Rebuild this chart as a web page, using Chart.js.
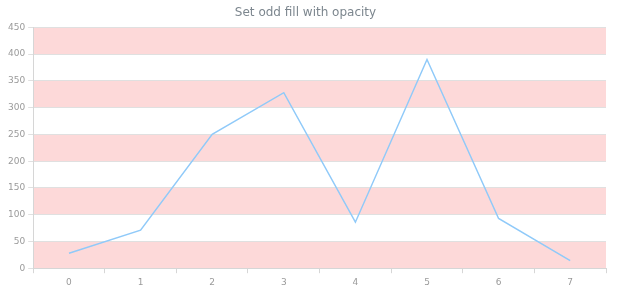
<!DOCTYPE html>
<html>
<head>
<meta charset="utf-8">
<script src="https://cdn.jsdelivr.net/npm/chart.js@4/dist/chart.umd.min.js"></script>
<style>
  html, body { margin: 0; padding: 0; background: #fff; }
  #wrap { width: 620px; height: 300px; }
</style>
</head>
<body>
<div id="wrap"><canvas id="chart"></canvas></div>
<script>
const categories = ['0', '1', '2', '3', '4', '5', '6', '7'];
const values = [28, 71, 250, 328, 86, 390, 93, 14];
const yTicks = [0, 50, 100, 150, 200, 250, 300, 350, 400, 450];

// fill every other band between y ticks
const oddBands = {
  id: 'oddBands',
  beforeDraw(chart) {
    const { ctx, chartArea, scales } = chart;
    const y = scales.y;
    ctx.save();
    ctx.fillStyle = 'rgba(250, 170, 170, 0.45)';
    for (let i = 0; i < yTicks.length - 1; i += 2) {
      const top = y.getPixelForValue(yTicks[i + 1]);
      const bottom = y.getPixelForValue(yTicks[i]);
      ctx.fillRect(chartArea.left, top, chartArea.right - chartArea.left, bottom - top);
    }
    ctx.restore();
  }
};

new Chart(document.getElementById('chart'), {
  type: 'line',
  data: {
    labels: categories,
    datasets: [{
      data: values,
      borderColor: '#90caf9',
      borderWidth: 1.5,
      pointRadius: 0,
      tension: 0,
      fill: false
    }]
  },
  options: {
    responsive: true,
    maintainAspectRatio: false,
    animation: false,
    layout: { padding: { left: 5, right: 14, top: 0, bottom: 8 } },
    plugins: {
      legend: { display: false },
      tooltip: { enabled: false },
      title: {
        display: true,
        text: 'Set odd fill with opacity',
        color: '#7c868e',
        font: { family: 'DejaVu Sans', size: 12, weight: 'normal' },
        padding: { top: 6, bottom: 7 }
      }
    },
    scales: {
      x: {
        offset: true,
        grid: { display: true, drawOnChartArea: false, offset: true, color: '#d6d6d6', tickLength: 5 },
        border: { color: '#d6d6d6' },
        ticks: { color: '#9a9a9a', font: { family: 'DejaVu Sans', size: 9 }, padding: 4 }
      },
      y: {
        min: 0,
        max: 450,
        afterBuildTicks(axis) { axis.ticks = yTicks.map(v => ({ value: v })); },
        grid: { color: '#e0e0e0', tickLength: 5 },
        border: { color: '#d6d6d6' },
        ticks: { color: '#9a9a9a', font: { family: 'DejaVu Sans', size: 9 }, padding: 3 }
      }
    }
  },
  plugins: [oddBands]
});
</script>
</body>
</html>
